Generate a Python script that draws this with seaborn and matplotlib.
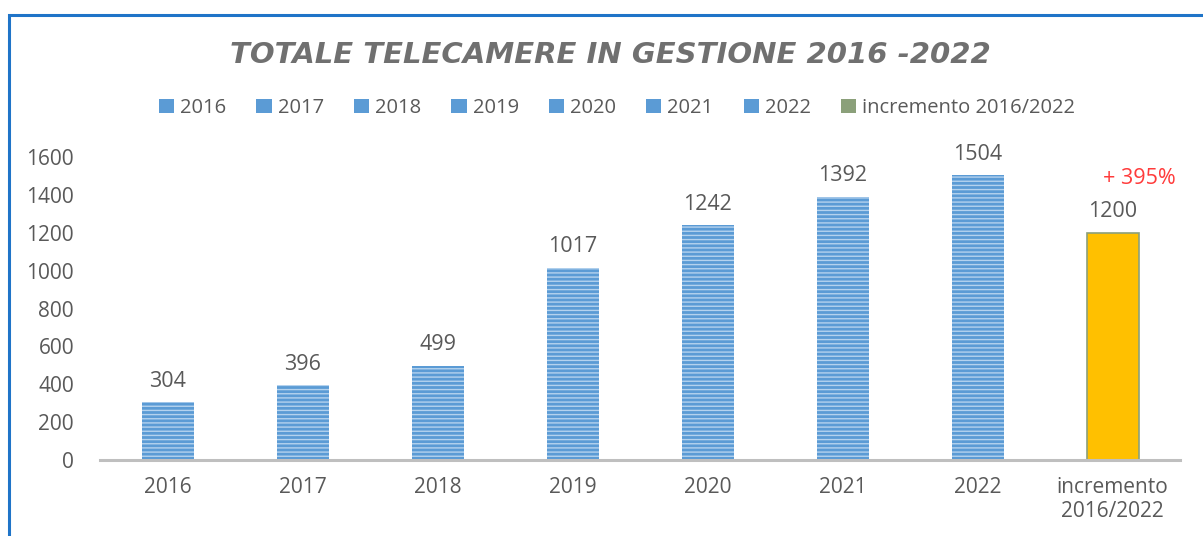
import numpy as np
import pandas as pd
import matplotlib.pyplot as plt
import seaborn as sns
from matplotlib.patches import Rectangle, Patch

# chart data
categories = ['2016', '2017', '2018', '2019', '2020', '2021', '2022', 'incremento\n2016/2022']
legend_names = ['2016', '2017', '2018', '2019', '2020', '2021', '2022', 'incremento 2016/2022']
values = [304, 396, 499, 1017, 1242, 1392, 1504, 1200]
increase_label = '+ 395%'
title_text = 'TOTALE TELECAMERE IN GESTIONE 2016 -2022'

sns.set_style('white')
plt.rcParams['font.family'] = ['Open Sans', 'DejaVu Sans']

blue = '#5B9BD5'
yellow = '#FFC000'
green = '#8BA07A'
gray_text = '#595959'

df = pd.DataFrame({'cat': categories, 'val': values})
palette = [blue] * 7 + [yellow]

fig = plt.figure(figsize=(12.03, 5.36), dpi=100)
ax = fig.add_axes([0.0835, 0.1418, 0.8975, 0.565])

sns.barplot(data=df, x='cat', y='val', hue='cat', palette=palette, width=0.385,
            legend=False, ax=ax, saturation=1)

# stripes on the blue bars, greenish edge on the last bar
plt.rcParams['hatch.linewidth'] = 1.4
for i, bar in enumerate(ax.patches):
    if i < 7:
        bar.set_hatch('----')
        bar.set_edgecolor('#B4D2EE')
        bar.set_linewidth(0)
    else:
        bar.set_edgecolor(green)
        bar.set_linewidth(1.2)

# value labels
for i, v in enumerate(values):
    ax.text(i, v + 55, str(v), ha='center', va='bottom', fontsize=15.5, color=gray_text)
ax.text(7.2, values[7] + 230, increase_label, ha='center', va='bottom', fontsize=15.5,
        color='#FF3B3B')

ax.set_xlim(-0.5, 7.5)
ax.set_ylim(0, 1600)
ax.set_yticks(range(0, 1601, 200))
ax.set_xlabel('')
ax.set_ylabel('')
ax.tick_params(axis='y', length=0, pad=19, labelsize=15, labelcolor=gray_text)
ax.tick_params(axis='x', length=0, pad=12, labelsize=15, labelcolor=gray_text)
for s in ['top', 'right', 'left']:
    ax.spines[s].set_visible(False)
ax.spines['bottom'].set_color('#BFBFBF')
ax.spines['bottom'].set_linewidth(2.2)
ax.patch.set_alpha(0)

# legend
handles = [Patch(facecolor=blue, edgecolor='none') for _ in range(7)]
handles.append(Patch(facecolor=green, edgecolor='none'))
fig.legend(handles, legend_names, loc='center', bbox_to_anchor=(0.513, 1 - 108 / 536),
           ncol=8, frameon=False, fontsize=14.5, labelcolor=gray_text,
           handlelength=0.75, handleheight=0.75, handletextpad=0.3, columnspacing=1.5)

# title
fig.text(0.507, 1 - 55 / 536, title_text, ha='center', va='center', fontsize=21,
         fontweight='bold', fontstyle='italic', color='#707070', family='DejaVu Sans')

# blue frame of the original image
fig.patches.append(Rectangle((9 / 1203, -0.5), 2.0, 1 - 15 / 536 + 0.5,
                             transform=fig.transFigure, fill=False,
                             edgecolor='#1F74C8', linewidth=2.2))

fig.savefig('out.png', dpi=100)
